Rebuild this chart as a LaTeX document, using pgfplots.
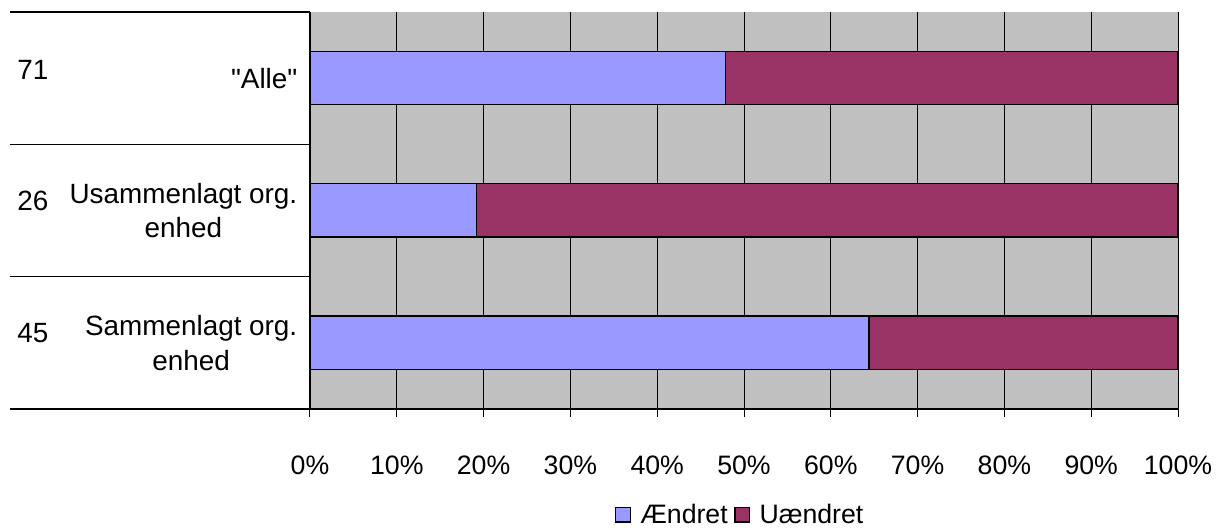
\documentclass[border=0pt]{standalone}
\usepackage{pgfplots}
\pgfplotsset{compat=1.18}
\usepackage{fontspec}
\setmainfont{Liberation Sans}[Ligatures=TeXOff]
\definecolor{bgGray}{HTML}{C0C0C0}
\definecolor{cBlue}{HTML}{9999FF}
\definecolor{cMaroon}{HTML}{993366}
\newcommand{\chartfont}{\fontsize{20.9}{26}\selectfont}
\newcommand{\tickfont}{\fontsize{20}{24}\selectfont}
\begin{document}
\begin{tikzpicture}[font=\chartfont]
\path[use as bounding box] (-232.5pt,-90.75pt) rectangle (683.25pt,306.75pt);
\begin{axis}[
  at={(0,0)}, anchor=south west,
  scale only axis,
  clip=false,
  width=651pt, height=297.75pt,
  xbar stacked,
  bar width=40pt,
  xmin=0, xmax=100,
  ymin=-0.5, ymax=2.5,
  xtick={0,10,...,100},
  xticklabel={\pgfmathprintnumber{\tick}\%},
  ytick={0,1,2},
  yticklabels={{Sammenlagt org.\\enhed},{Usammenlagt org.\\enhed},{"Alle"}},
  yticklabel style={align=center, font=\chartfont, xshift=0pt},
  xticklabel style={font=\tickfont, yshift=-26pt},
  /pgf/number format/assume math mode=true,
  ytick style={draw=none},
  xtick style={black, line width=0.75pt},
  major tick length=6pt,
  tick align=outside,
  axis x line*=bottom,
  axis y line*=left,
  axis line style={black, line width=1pt, -},
  xmajorgrids,
  grid style={black, line width=0.75pt},
  axis background/.style={fill=bgGray},
  legend style={at={(0.496,-0.266)}, anchor=center, draw=none, fill=none,
    legend columns=-1, font=\tickfont, column sep=0pt, inner sep=0pt,
    /tikz/every odd column/.append style={column sep=5pt},
    /tikz/every even column/.append style={column sep=3pt}},
  legend image code/.code={\draw[#1, draw=black, line width=0.9pt] (0pt,-5.5pt) rectangle (11pt,5.5pt);},
]
\addplot[fill=cBlue, draw=black, line width=1pt] coordinates {(64.4,0) (19.2,1) (47.9,2)};
\addplot[fill=cMaroon, draw=black, line width=1pt] coordinates {(35.6,0) (80.8,1) (52.1,2)};
\legend{Ændret, Uændret}
\draw[black, line width=1pt] (axis cs:0,-0.5) -- ++(-225pt,0pt);
\draw[black, line width=1pt] (axis cs:0,0.5) -- ++(-225pt,0pt);
\draw[black, line width=1pt] (axis cs:0,1.5) -- ++(-225pt,0pt);
\draw[black, line width=1pt] (axis cs:0,2.5) -- ++(-225pt,0pt);
\draw[black, line width=0.75pt] (axis cs:100,-0.5) -- (axis cs:100,2.5);
\node[anchor=west, inner sep=0pt, xshift=-219.75pt, yshift=6pt] at (axis cs:0,2) {71};
\node[anchor=west, inner sep=0pt, xshift=-219.75pt, yshift=7pt] at (axis cs:0,1) {26};
\node[anchor=west, inner sep=0pt, xshift=-219.75pt, yshift=7pt] at (axis cs:0,0) {45};
\end{axis}
\end{tikzpicture}
\end{document}
